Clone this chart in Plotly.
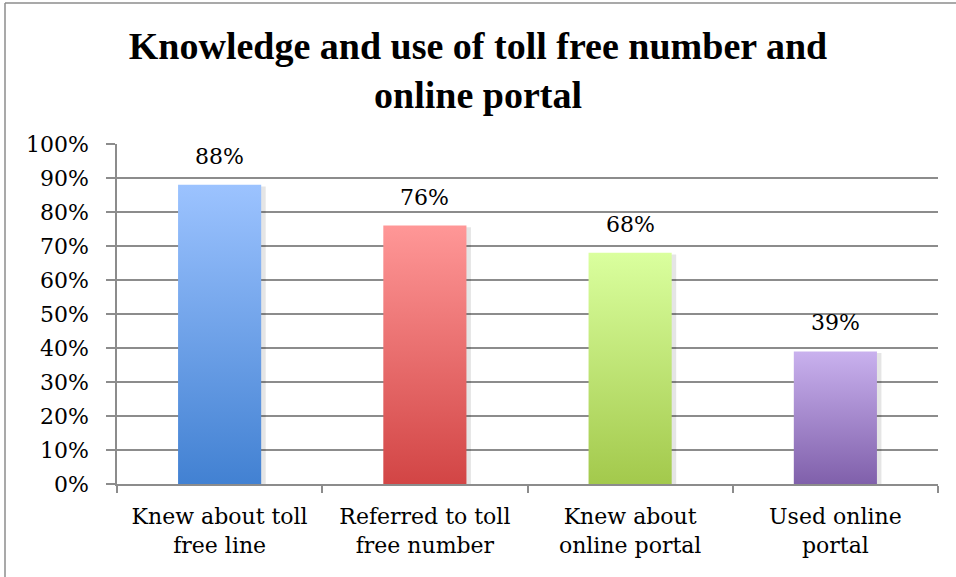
import plotly.graph_objects as go

categories = ["Knew about toll<br>free line", "Referred to toll<br>free number",
              "Knew about<br>online portal", "Used online<br>portal"]
values = [88, 76, 68, 39]
top_colors = ["#9CC3FF", "#FF9797", "#DAFF9E", "#C9B1EE"]
bottom_colors = ["#4281D2", "#D24545", "#A3C94C", "#8060AB"]
y_ticks = list(range(0, 101, 10))
y_tick_labels = [f"{v}%" for v in y_ticks]

BAR_W = 0.405
SERIF = "DejaVu Serif"
TITLE_FONT = "Liberation Serif"
FRAME = "#8c8c8c"

fig = go.Figure()
for i, (v, tc, bc) in enumerate(zip(values, top_colors, bottom_colors)):
    x0, x1 = i - BAR_W / 2, i + BAR_W / 2
    # soft shadow
    fig.add_trace(go.Scatter(
        x=[x0 + 0.012, x1 + 0.022, x1 + 0.022, x0 + 0.012, x0 + 0.012],
        y=[-0.6, -0.6, v - 0.5, v - 0.5, -0.6],
        mode="lines", line=dict(width=0), fill="toself",
        fillcolor="rgba(0,0,0,0.10)", hoverinfo="skip", showlegend=False))
    fig.add_trace(go.Scatter(
        x=[x0, x1, x1, x0, x0], y=[0, 0, v, v, 0],
        mode="lines", line=dict(width=0), fill="toself",
        fillgradient=dict(type="vertical", colorscale=[[0, bc], [1, tc]]),
        hoverinfo="skip", showlegend=False))
    fig.add_annotation(x=i, y=v, text=f"{v}%", showarrow=False,
                       yanchor="bottom", yshift=14,
                       font=dict(family=SERIF, size=22, color="#000"))

fig.update_layout(
    width=956, height=577,
    margin=dict(l=117, r=18, t=144, b=93),
    paper_bgcolor="white", plot_bgcolor="white",
    title=dict(text="<b>Knowledge and use of toll free number and<br>online portal</b>",
               x=0.5, xanchor="center", y=1 - 59 / 577, yanchor="middle",
               font=dict(family=TITLE_FONT, size=38, color="#000")),
    showlegend=False,
    xaxis=dict(range=[-0.5, 3.5], tickmode="array", tickvals=list(range(len(categories))),
               ticktext=categories, ticks="", ticklen=0, showgrid=False, zeroline=False,
               showline=True, linecolor=FRAME, linewidth=1.5,
               ticklabelstandoff=12,
               tickfont=dict(family=SERIF, size=22, color="#000"),
               minor=dict(tickmode="array",
                          tickvals=[k - 0.5 for k in range(len(categories) + 1)],
                          ticks="outside", ticklen=7, tickcolor=FRAME, tickwidth=1.5,
                          showgrid=False)),
    yaxis=dict(range=[0, 100], tickmode="array", tickvals=y_ticks, ticktext=y_tick_labels,
               ticks="outside", ticklen=9, tickcolor=FRAME, tickwidth=1.5,
               showgrid=True, gridcolor=FRAME, gridwidth=1.5, zeroline=False,
               showline=True, linecolor=FRAME, linewidth=1.5,
               ticklabelstandoff=13,
               tickfont=dict(family=SERIF, size=22, color="#000")),
)
# outer chart frame: only top and left edges are visible in the picture
fx0 = (5 - 117) / 821
fy1 = (484 - 3) / 340
fig.add_shape(type="line", xref="paper", yref="paper", x0=fx0, x1=1.3, y0=fy1, y1=fy1,
              line=dict(color=FRAME, width=1.5), layer="below")
fig.add_shape(type="line", xref="paper", yref="paper", x0=fx0, x1=fx0, y0=-0.5, y1=fy1,
              line=dict(color=FRAME, width=1.5), layer="below")

fig.write_html("out.html", config={"displayModeBar": False},
               post_script="document.body.style.margin='0';document.body.style.overflow='hidden';")
